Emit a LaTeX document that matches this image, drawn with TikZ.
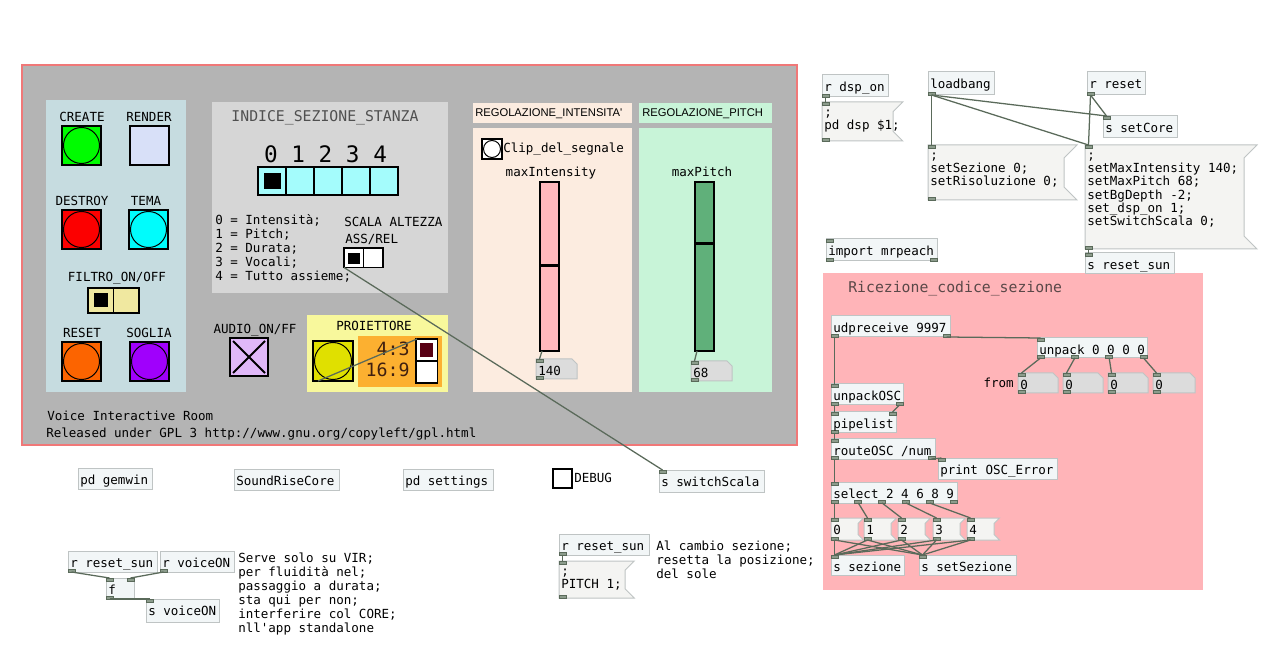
\documentclass[tikz,border=0pt]{standalone}
\usepackage{fontspec}
\setmainfont{DejaVu Sans}
\setmonofont{DejaVu Sans Mono}
\newfontfamily\lsans{Liberation Sans}
\usetikzlibrary{calc}
\definecolor{cvgray}{HTML}{B4B4B4}
\definecolor{cvborder}{HTML}{F07878}
\definecolor{pblue}{HTML}{C6DCE0}
\definecolor{pgrayp}{HTML}{D6D6D6}
\definecolor{ppeach}{HTML}{FCECE0}
\definecolor{pgreen}{HTML}{C8F4D8}
\definecolor{ppink}{HTML}{FFB4B8}
\definecolor{pyel}{HTML}{F8F89C}
\definecolor{porange}{HTML}{FCB030}
\definecolor{objfill}{HTML}{F2F6F7}
\definecolor{objline}{HTML}{BFC4C4}
\definecolor{msgfill}{HTML}{F4F4F2}
\definecolor{portc}{HTML}{8C9C8C}
\definecolor{portl}{HTML}{5A6A5A}
\definecolor{wire}{HTML}{5A6A5A}
\definecolor{numfill}{HTML}{DCDCDC}
\definecolor{bgreen}{HTML}{00FC00}
\definecolor{rendc}{HTML}{D8E0F8}
\definecolor{bred}{HTML}{FC0000}
\definecolor{bcyan}{HTML}{00FCFC}
\definecolor{borange}{HTML}{FC6400}
\definecolor{bpurple}{HTML}{A000FC}
\definecolor{byellow}{HTML}{E0E000}
\definecolor{filty}{HTML}{F0E8A0}
\definecolor{radcyan}{HTML}{A4FCFC}
\definecolor{audioc}{HTML}{E0B8F8}
\definecolor{radred}{HTML}{580014}
\definecolor{slpink}{HTML}{FFB8BC}
\definecolor{slgreen}{HTML}{60B07A}
\definecolor{titgray}{HTML}{505050}
\definecolor{ricgray}{HTML}{5A4848}
\definecolor{ratio}{HTML}{402010}
\newcommand\pdfnt{\fontsize{9.4}{10}\selectfont\ttfamily}
\newcommand\cmfnt{\fontsize{9.4}{10.5}\selectfont\ttfamily}
\newcommand\tstrut{\rule{0pt}{8pt}}
\tikzset{
  objst/.style={draw=objline, fill=objfill, line width=0.75pt, inner sep=0pt, outer sep=0pt},
  msgst/.style={draw=objline, fill=msgfill, line width=0.75pt},
  numst/.style={draw=objline, fill=numfill, line width=0.75pt},
  hid/.style={inner sep=0pt, outer sep=0pt},
  pdtxt/.style={font=\pdfnt, inner sep=0pt, align=left, execute at begin node=\tstrut},
  cmt/.style={font=\cmfnt, inner sep=0pt, align=left, execute at begin node=\tstrut, anchor=north west},
  lbl/.style={font=\pdfnt, inner sep=0pt, anchor=base},
  wirest/.style={draw=wire, line width=0.95pt},
  portst/.style={fill=portc, draw=portl, line width=0.5pt},
  guibox/.style={draw=black, line width=0.8pt, inner sep=0pt, outer sep=0pt, anchor=north west},
}
\newcommand\pdports[6]{%
  \ifnum#5>0 \foreach \k in {1,...,#5}{\filldraw[portst] ({#1+(\k-1)*(#3-#1-7)/max(#5-1,1)},#2) rectangle ++(7,3);}\fi
  \ifnum#6>0 \foreach \k in {1,...,#6}{\filldraw[portst] ({#1+(\k-1)*(#3-#1-7)/max(#6-1,1)},#4) rectangle ++(7,-3);}\fi
}
\newcommand\pdbox[8]{%
  \node[objst, anchor=north west, minimum width={(#4-#2)*0.75pt}, minimum height={(#5-#3)*0.75pt}] (#1) at (#2,#3) {};
  \pdports{#2}{#3}{#4}{#5}{#6}{#7}
  \node[pdtxt, anchor=north west] (#1t) at (#2+2,#3+5.3) {#8};
}
\newcommand\pdmsg[8]{%
  \pgfmathsetmacro\crn{min((#5-#3)/4,13)}
  \draw[msgst] (#2,#3) -- ({#4+\crn},#3) -- (#4,{#3+\crn}) -- (#4,{#5-\crn}) -- ({#4+\crn},#5) -- (#2,#5) -- cycle;
  \node[hid, anchor=north west, minimum width={(#4-#2)*0.75pt}, minimum height={(#5-#3)*0.75pt}] (#1) at (#2,#3) {};
  \filldraw[portst] (#2,#3) rectangle ++(7,3);
  \ifnum#6>0 \filldraw[portst] (#2,#5) rectangle ++(7,-3);\fi
  \node[pdtxt, anchor=north west] (#1t) at (#2+2,{#3+#8-10.67}) {#7};
}
\newcommand\pdnum[6]{%
  \draw[numst] (#2,#3) -- (#4-5,#3) -- (#4,#3+5) -- (#4,#5) -- (#2,#5) -- cycle;
  \node[hid, anchor=north west, minimum width={(#4-#2)*0.75pt}, minimum height={(#5-#3)*0.75pt}] (#1) at (#2,#3) {};
  \filldraw[portst] (#2,#3) rectangle ++(7,3);
  \filldraw[portst] (#2,#5) rectangle ++(7,-3);
  \node[pdtxt, anchor=north west] (#1t) at (#2+2,#3+5.3) {#6};
}
\newcommand\pdbang[5]{%
  \node[guibox, fill=#5, minimum size={#4*0.75pt}] (#1) at (#2,#3) {};
  \draw[black, line width=0.75pt] (#1.center) circle[radius={#4/2-1.5}];
}
\newcommand\wire[4]{\draw[wirest] ($(#1.south west)+(#2,0)$) -- ($(#3.north west)+(#4,0)$);}
\begin{document}
\begin{tikzpicture}[x=0.75pt,y=-0.75pt]
\useasboundingbox (0,0) rectangle (1277,655);
\fill[white] (0,0) rectangle (1277,655);
% main canvas
\fill[cvgray] (22,65) rectangle (797,445);
\draw[cvborder, line width=0.9pt] (22,65) rectangle (797,445);
% panels
\fill[pblue] (46,100) rectangle (186,392);
\fill[pgrayp] (212,102) rectangle (448,293);
\fill[ppeach] (473,103) rectangle (632,123);
\fill[pgreen] (639,103) rectangle (772,123);
\fill[ppeach] (473,128) rectangle (632,392);
\fill[pgreen] (639,128) rectangle (772,392);
\fill[pyel] (307,315) rectangle (448,392);
\fill[porange] (358,336) rectangle (442,387);
\fill[ppink] (823,273) rectangle (1203,590);

% labels of left panel
\node[lbl] (lcreate) at (82,121.5) {CREATE};
\node[lbl] (lrender) at (149,121.5) {RENDER};
\node[lbl] (ldestroy) at (82,205.5) {DESTROY};
\node[lbl] (ltema) at (146,205.5) {TEMA};
\node[lbl] (lfiltro) at (117,281.5) {FILTRO\_ON/OFF};
\node[lbl] (lreset) at (82,337.5) {RESET};
\node[lbl] (lsoglia) at (149,337.5) {SOGLIA};
\node[lbl] (laudio) at (255,333.5) {AUDIO\_ON/FF};
\node[lbl] (lproj) at (374,330.5) {PROIETTORE};

% bangs
\pdbang{bcreate}{62}{126}{39}{bgreen}
\node[guibox, fill=rendc, minimum size={39*0.75pt}] (brender) at (130,126) {};
\pdbang{bdestroy}{62}{210}{39}{bred}
\pdbang{btema}{129}{210}{39}{bcyan}
\pdbang{breset}{62}{342}{39}{borange}
\pdbang{bsoglia}{130}{342}{39}{bpurple}
\pdbang{yb}{313}{341}{40}{byellow}
\pdbang{bclip}{482}{139}{20}{white}

% filtro toggle
\node[guibox, fill=filty, minimum width={25.5*0.75pt}, minimum height={25*0.75pt}] (fil0) at (88,288) {};
\node[guibox, fill=filty, minimum width={25.5*0.75pt}, minimum height={25*0.75pt}] (fil1) at (113.5,288) {};
\fill[black] (94,293) rectangle (108,307);

% index section
\node[font=\fontsize{11.1}{12}\selectfont\ttfamily, text=titgray, inner sep=0pt, anchor=base] (ltitle) at (325,122) {INDICE\_SEZIONE\_STANZA};
\node[font=\fontsize{17}{17}\selectfont\ttfamily, inner sep=0pt, anchor=base] (ldigits) at (325.5,163) {0 1 2 3 4};
\foreach \i in {0,...,4}{\node[guibox, fill=radcyan, minimum size={28*0.75pt}] (idx\i) at ({258+28*\i},167) {};}
\fill[black] (264,173) rectangle (281,189);
\node[cmt] (llegend) at (215,214.3) {0 = Intensità;\\1 = Pitch;\\2 = Durata;\\3 = Vocali;\\4 = Tutto assieme;};
\node[lbl, anchor=base west] (lscala) at (344,226.5) {SCALA ALTEZZA};
\node[lbl, anchor=base west] (lass) at (345,243.5) {ASS/REL};
\node[guibox, fill=white, minimum size={19.5*0.75pt}] (asr0) at (344,248) {};
\node[guibox, fill=white, minimum size={19.5*0.75pt}] (asr1) at (363.5,248) {};
\fill[black] (348,253) rectangle (360,264);

% audio toggle
\node[guibox, fill=audioc, minimum size={38*0.75pt}] (aud) at (230,338) {};
\draw[black, line width=1.5pt] (233,341) -- (265,373) (265,341) -- (233,373);

% projector radio
\node[guibox, fill=white, minimum width={21.5*0.75pt}, minimum height={22*0.75pt}] (rad0) at (416,339) {};
\node[guibox, fill=white, minimum width={21.5*0.75pt}, minimum height={22*0.75pt}] (rad1) at (416,361) {};
\fill[radred] (420,343) rectangle (433,357);
\node[font=\fontsize{13.7}{14}\selectfont\ttfamily, text=ratio, inner sep=0pt, anchor=base east] (l43) at (410,355.5) {4:3};
\node[font=\fontsize{13.7}{14}\selectfont\ttfamily, text=ratio, inner sep=0pt, anchor=base east] (l169) at (410,376.5) {16:9};

% regolazione
\node[font=\fontsize{8.4}{9}\selectfont\lsans, inner sep=0pt, anchor=base west] (lregi) at (475,117) {REGOLAZIONE\_INTENSITA'};
\node[font=\fontsize{8.4}{9}\selectfont\lsans, inner sep=0pt, anchor=base west] (lregp) at (642,117) {REGOLAZIONE\_PITCH};
\node[lbl, anchor=base west] (lclip) at (503,152.5) {Clip\_del\_segnale};
\node[lbl] (lmaxi) at (551,177) {maxIntensity};
\node[lbl] (lmaxp) at (702,177) {maxPitch};
\node[guibox, fill=slpink, minimum width={19*0.75pt}, minimum height={169*0.75pt}] (sl1) at (540,182) {};
\draw[black, line width=2.25pt] (540,266) -- (559,266);
\node[guibox, fill=slgreen, minimum width={19*0.75pt}, minimum height={169*0.75pt}] (sl2) at (695,182) {};
\draw[black, line width=2.25pt] (695,244) -- (714,244);
\pdnum{n140}{536}{359}{577}{379}{140}
\pdnum{n68}{691}{361}{732}{381}{68}

% footer texts
\node[lbl, anchor=base west] (lvoice) at (47,420.5) {Voice Interactive Room};
\node[lbl, anchor=base west] (lgpl) at (46,437.5) {Released under GPL 3 http://www.gnu.org/copyleft/gpl.html};

% right upper objects
\pdbox{dspr}{822}{75}{888}{97}{0}{1}{r dsp\_on}
\pdmsg{dspm}{822}{102}{893}{141}{1}{;\\pd dsp \$1;}{18}
\pdbox{lb}{928}{72}{994}{95}{0}{1}{loadbang}
\pdmsg{mone}{928}{145}{1064}{200}{1}{;\\setSezione 0;\\setRisoluzione 0;}{18}
\pdbox{rres}{1087}{72}{1145}{95}{0}{1}{r reset}
\pdbox{score}{1103}{116}{1177}{138}{1}{0}{s setCore}
\pdmsg{mtwo}{1085}{145}{1244}{249}{1}{;\\setMaxIntensity 140;\\setMaxPitch 68;\\setBgDepth -2;\\set\_dsp\_on 1;\\setSwitchScala 0;}{18}
\pdbox{ssun}{1085}{253}{1174}{274}{1}{0}{s reset\_sun}
\pdbox{imp}{826}{239}{937}{261}{1}{2}{import mrpeach}

% pink panel
\node[font=\fontsize{11.1}{12}\selectfont\ttfamily, text=ricgray, inner sep=0pt, anchor=base west] (lric) at (848,292.5) {Ricezione\_codice\_sezione};
\pdbox{udp}{831}{316}{950}{337}{0}{2}{udpreceive 9997}
\pdbox{unp}{1037}{338}{1147}{358}{1}{4}{unpack 0 0 0 0}
\node[lbl, anchor=base east] (lfrom) at (1014,388) {from};
\pdnum{na}{1018}{373}{1058}{393}{0}
\pdnum{nb}{1063}{373}{1103}{393}{0}
\pdnum{nc}{1108}{373}{1148}{393}{0}
\pdnum{nd}{1153}{373}{1195}{393}{0}
\pdbox{uosc}{831}{384}{903}{405}{1}{2}{unpackOSC}
\pdbox{pipe}{831}{412}{896}{433}{2}{1}{pipelist}
\pdbox{rosc}{831}{439}{935}{459}{1}{2}{routeOSC /num}
\pdbox{prn}{938}{458}{1057}{479}{1}{0}{print OSC\_Error}
\pdbox{sel}{831}{482}{957}{503}{1}{6}{select 2 4 6 8 9}
\pdmsg{qa}{831}{518}{858}{540}{1}{0}{16}
\pdmsg{qb}{864}{518}{891}{540}{1}{1}{16}
\pdmsg{qc}{898}{518}{925}{540}{1}{2}{16}
\pdmsg{qd}{933}{518}{960}{540}{1}{3}{16}
\pdmsg{qe}{967}{518}{994}{540}{1}{4}{16}
\pdbox{ssez}{831}{555}{904}{575}{1}{0}{s sezione}
\pdbox{ssset}{919}{555}{1016}{575}{1}{0}{s setSezione}

% bottom objects
\pdbox{gem}{78}{468}{152}{489}{0}{0}{pd gemwin}
\pdbox{src}{234}{469}{339}{490}{0}{0}{SoundRiseCore}
\pdbox{pset}{403}{469}{493}{490}{0}{0}{pd settings}
\node[guibox, fill=white, minimum size={19*0.75pt}] (dbg) at (553,469) {};
\node[lbl, anchor=base west] (ldebug) at (574,482.5) {DEBUG};
\pdbox{sws}{659}{470}{764}{492}{1}{0}{s switchScala}
\pdbox{rsa}{68}{551}{157}{572}{0}{1}{r reset\_sun}
\pdbox{rvo}{160}{551}{234}{572}{0}{1}{r voiceON}
\pdbox{ff}{106}{578}{134}{599}{2}{1}{f}
\pdbox{svo}{146}{599}{219}{622}{1}{0}{s voiceON}
\node[cmt] (lserve) at (238,553) {Serve solo su VIR;\\per fluidità nel;\\passaggio a durata;\\sta qui per non;\\interferire col CORE;\\nll'app standalone};
\pdbox{rsb}{559}{534}{649}{555}{0}{1}{r reset\_sun}
\pdmsg{pm}{559}{561}{625}{598}{1}{;\\PITCH 1;}{18}
\node[cmt] (lcambio) at (656,540.3) {Al cambio sezione;\\resetta la posizione;\\del sole};

% wires
\wire{dspr}{3.5}{dspm}{3.5}
\wire{lb}{3.5}{mone}{3.5}
\wire{lb}{3.5}{score}{3.5}
\wire{lb}{3.5}{mtwo}{3.5}
\wire{rres}{3.5}{score}{3.5}
\wire{rres}{3.5}{mtwo}{3.5}
\wire{mtwo}{3.5}{ssun}{3.5}
\wire{udp}{3.5}{uosc}{3.5}
\wire{udp}{115.5}{unp}{3.5}
\wire{unp}{3.5}{na}{3.5}
\wire{unp}{37.8}{nb}{3.5}
\wire{unp}{72.2}{nc}{3.5}
\wire{unp}{106.5}{nd}{3.5}
\wire{uosc}{3.5}{pipe}{3.5}
\wire{uosc}{68.5}{pipe}{61.5}
\wire{pipe}{3.5}{rosc}{3.5}
\wire{rosc}{3.5}{sel}{3.5}
\wire{rosc}{100.5}{prn}{3.5}
\wire{sel}{3.5}{qa}{3.5}
\wire{sel}{27.3}{qb}{3.5}
\wire{sel}{51.1}{qc}{3.5}
\wire{sel}{74.9}{qd}{3.5}
\wire{sel}{98.7}{qe}{3.5}
\foreach \q in {qa,qb,qc,qd,qe}{\wire{\q}{3.5}{ssez}{3.5}\wire{\q}{3.5}{ssset}{3.5}}
\wire{rsa}{3.5}{ff}{3.5}
\wire{rvo}{3.5}{ff}{24.5}
\wire{ff}{3.5}{svo}{3.5}
\wire{rsb}{3.5}{pm}{3.5}
\draw[wirest] (asr0.south west) -- ($(sws.north west)+(3.5,0)$);
\draw[wirest] ($(yb.south west)+(5,0)$) -- ($(rad0.north west)+(1,0)$);
\draw[wirest] ($(sl1.south west)+(2,0)$) -- ($(n140.north west)+(3.5,0)$);
\draw[wirest] ($(sl2.south west)+(2,0)$) -- ($(n68.north west)+(3.5,0)$);
\end{tikzpicture}
\end{document}
